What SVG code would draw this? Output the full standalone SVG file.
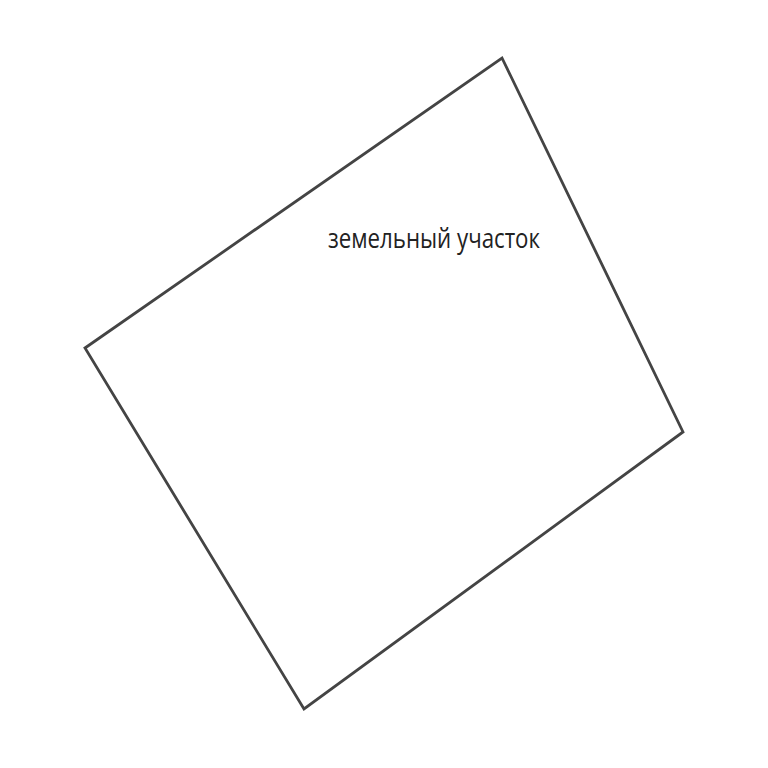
<svg xmlns="http://www.w3.org/2000/svg" width="768" height="768" viewBox="0 0 768 768">
<style>
.plot{fill:none;stroke:#444;stroke-width:2.8;stroke-linejoin:miter}
.lbl{font-family:"Open Sans","Noto Sans",sans-serif;font-size:27px;fill:#222}
</style>
<rect width="768" height="768" fill="#fff"/>
<g id="plot">
<polygon class="plot" points="85,348 502,58 683,432 304,709"/>
<text class="lbl" x="328" y="248" textLength="212" lengthAdjust="spacingAndGlyphs">земельный участок</text>
</g>
</svg>
